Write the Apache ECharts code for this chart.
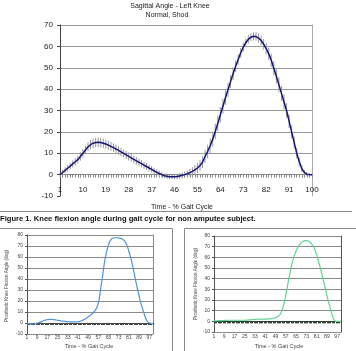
<!DOCTYPE html>
<html>
<head>
<meta charset="utf-8">
<script src="https://cdn.jsdelivr.net/npm/echarts@6/dist/echarts.min.js"></script>
<style>
  html, body { margin: 0; padding: 0; background: #fff; }
  #chart { width: 356px; height: 351px; }
</style>
</head>
<body>
<div id="chart"></div>
<script>
// gait cycle categories 1..100
const gaitCats = Array.from({ length: 100 }, (_, i) => String(i + 1));

// top chart: normal shod knee angle (mean) and its spread
const kneeMean = [
  0, 1, 2, 3, 4, 5, 6, 7, 8.5, 10,
  11.5, 13, 14, 14.7, 15, 15.1, 15, 14.7, 14.3, 13.8,
  13.2, 12.6, 12, 11.3, 10.6, 9.9, 9.2, 8.5, 7.8, 7.1,
  6.4, 5.8, 5.1, 4.4, 3.8, 3.1, 2.5, 1.8, 1.1, 0.5,
  0, -0.5, -0.8, -1, -1, -1, -0.9, -0.6, -0.3, 0,
  0.4, 0.9, 1.5, 2.2, 3.1, 4.3, 5.8, 8.5, 10.8, 13.5,
  16.6, 20.2, 24, 28, 32, 36, 39.7, 43.5, 47.2, 50.7,
  53.9, 57, 59.6, 61.7, 63.3, 64.3, 64.7, 64.6, 63.9, 62.8,
  61, 59, 56.5, 53.5, 49.8, 46, 42, 38, 34, 30,
  25, 20, 15, 10, 6, 2.8, 1, 0.2, 0, 0
];
const kneeSd = [
  1, 1.2, 1.4, 1.5, 1.6, 1.7, 1.8, 1.9, 2, 2,
  2, 2.1, 2.2, 2.2, 2.2, 2.2, 2.2, 2.2, 2.1, 2.1,
  2, 2, 2, 2, 2, 1.9, 1.9, 1.9, 1.8, 1.8,
  1.8, 1.7, 1.7, 1.6, 1.6, 1.5, 1.5, 1.4, 1.4, 1.3,
  1.3, 1.2, 1.2, 1.2, 1.2, 1.2, 1.2, 1.3, 1.4, 1.5,
  1.6, 1.8, 2, 2.2, 2.4, 2.6, 2.8, 3, 3.2, 3.4,
  3.5, 3.6, 3.6, 3.6, 3.5, 3.4, 3.3, 3.1, 2.9, 2.7,
  2.5, 2.3, 2.1, 2, 1.9, 1.9, 1.9, 2, 2.1, 2.3,
  2.5, 2.7, 2.9, 3.1, 3.3, 3.4, 3.5, 3.5, 3.5, 3.4,
  3.2, 3, 2.7, 2.4, 2, 1.6, 1.2, 0.9, 0.7, 0.5
];

// bottom left: prosthetic knee (blue)
const prosthBlue = [
  -0.5, -0.6, -0.7, -0.8, -0.8, -0.7, -0.6, -0.4, -0.2, 0.2,
  0.6, 1, 1.5, 2, 2.4, 2.8, 3, 3.2, 3.3, 3.3,
  3.2, 3.1, 2.9, 2.7, 2.5, 2.3, 2.1, 1.9, 1.7, 1.5,
  1.4, 1.3, 1.2, 1.1, 1, 1, 1, 1, 1, 1.1,
  1.2, 1.4, 1.7, 2.1, 2.6, 3.2, 3.9, 4.6, 5.4, 6.3,
  7.2, 8.2, 9.3, 10.6, 12.2, 14.5, 18, 24, 32, 40,
  48, 56, 62, 67, 71, 74, 75.8, 76.8, 77.3, 77.5,
  77.5, 77.5, 77.4, 77.1, 76.8, 76.2, 75.3, 74, 72, 69,
  65.5, 61.5, 57, 52, 46.5, 41, 35, 30, 25, 20,
  16, 12, 8.5, 5, 2.5, 1, 0, -0.3, -0.5, -0.5
];

// bottom right: prosthetic knee (green)
const prosthGreen = [
  0.5, 0.5, 0.5, 0.6, 0.6, 0.7, 0.7, 0.8, 0.8, 0.9,
  0.9, 1, 1, 1, 1, 1, 1, 1, 1, 1,
  1, 1, 1, 1, 1, 1.1, 1.2, 1.3, 1.4, 1.5,
  1.6, 1.7, 1.8, 1.9, 2, 2, 2, 2, 2, 2,
  2, 2.1, 2.2, 2.3, 2.4, 2.6, 2.8, 3.1, 3.5, 4,
  4.8, 5.8, 7.5, 10, 14, 19, 25, 31, 38, 44,
  50, 55, 59.5, 63, 66, 68.5, 70.5, 72.3, 73.5, 74.5,
  75.2, 75.6, 75.7, 75.5, 75, 74, 72.7, 71, 69, 66,
  62.5, 58.5, 54, 49.5, 44.5, 39.5, 34.5, 29.5, 24.5, 19.5,
  15, 10.5, 6.5, 3, 0.8, 0, 0, 0, 0, 0
];

const FONT = '"Liberation Sans", Arial, sans-serif';
const chart = echarts.init(document.getElementById('chart'), null, { renderer: 'canvas' });

function txt(text, x, y, size, opts) {
  opts = opts || {};
  return {
    type: 'text',
    x: x, y: y,
    rotation: opts.rotation || 0,
    silent: true,
    style: {
      text: text,
      fill: opts.color || '#222',
      font: (opts.bold ? 'bold ' : '') + size + 'px ' + FONT,
      align: opts.align || 'center',
      verticalAlign: 'middle',
      textAlign: opts.align || 'center',
      textVerticalAlign: 'middle'
    }
  };
}
function seg(x1, y1, x2, y2, color) {
  return {
    type: 'line', silent: true,
    shape: { x1: x1, y1: y1, x2: x2, y2: y2 },
    style: { stroke: color || '#888', lineWidth: 1 }
  };
}

// small multiples share axis styling
function smallX(gridIndex, lineColor, margin) {
  return {
    gridIndex: gridIndex,
    type: 'category',
    data: gaitCats,
    boundaryGap: false,
    axisLine: { onZero: true, lineStyle: { color: lineColor, width: 1 } },
    axisTick: { interval: 0, length: 2, lineStyle: { color: lineColor } },
    axisLabel: { interval: 7, margin: margin, fontSize: 5, color: '#444', fontFamily: FONT },
    splitLine: { show: false }
  };
}
function smallY(gridIndex) {
  return {
    gridIndex: gridIndex,
    type: 'value',
    min: -10, max: 80, interval: 10,
    axisLine: { show: true, lineStyle: { color: '#555' } },
    axisTick: { show: true, length: 2, lineStyle: { color: '#555' } },
    axisLabel: { fontSize: 5, margin: 4, color: '#444', fontFamily: FONT },
    splitLine: { show: true, lineStyle: { color: '#8a8a8a', width: 1 } }
  };
}
function borderY(gridIndex, min, max, color) {
  return {
    gridIndex: gridIndex, type: 'value', position: 'right',
    min: min, max: max,
    axisLine: { show: true, lineStyle: { color: color } },
    axisTick: { show: false }, axisLabel: { show: false }, splitLine: { show: false }
  };
}

const option = {
  animation: false,
  backgroundColor: '#fff',
  grid: [
    { left: 60, top: 25, width: 252, height: 171 },
    { left: 27, top: 235, width: 126, height: 99 },
    { left: 214, top: 236, width: 127, height: 96 }
  ],
  xAxis: [
    {
      gridIndex: 0,
      type: 'category',
      data: gaitCats,
      boundaryGap: false,
      axisLine: { onZero: true, lineStyle: { color: '#888' } },
      axisTick: { interval: 0, length: 3, lineStyle: { color: '#888' } },
      axisLabel: { interval: 8, margin: -10, fontSize: 8, color: '#222', fontFamily: FONT },
      splitLine: { show: false }
    },
    smallX(1, '#444', 1.5),
    smallX(2, '#2f3f33', 2)
  ],
  yAxis: [
    {
      gridIndex: 0,
      type: 'value',
      min: -10, max: 70, interval: 10,
      axisLine: { show: true, lineStyle: { color: '#444' } },
      axisTick: { show: true, length: 3, lineStyle: { color: '#444' } },
      axisLabel: { fontSize: 8, margin: 7, color: '#222', fontFamily: FONT },
      splitLine: { show: true, showMinLine: false, lineStyle: { color: '#999', width: 1 } }
    },
    borderY(0, -10, 70, '#aaa'),
    smallY(1),
    borderY(1, -10, 80, '#888'),
    smallY(2),
    borderY(2, -10, 80, '#2e6b3e')
  ],
  series: [
    {
      name: 'spread',
      type: 'custom',
      xAxisIndex: 0, yAxisIndex: 0,
      data: kneeMean.map((v, i) => [i, v, kneeSd[i]]),
      encode: { x: 0, y: 1 },
      z: 1,
      renderItem: function (params, api) {
        const i = api.value(0);
        const m = api.value(1);
        const s = api.value(2);
        const lo = api.coord([i, m - s]);
        const hi = api.coord([i, m + s]);
        return {
          type: 'line',
          shape: { x1: lo[0], y1: lo[1], x2: hi[0], y2: hi[1] },
          style: { stroke: '#9a9a9a', lineWidth: 1 }
        };
      }
    },
    {
      name: 'Sagittal Angle',
      type: 'line',
      xAxisIndex: 0, yAxisIndex: 0,
      data: kneeMean,
      symbol: 'none',
      z: 3,
      lineStyle: { color: '#16167a', width: 1.5 }
    },
    {
      name: 'Prosthetic A',
      type: 'line',
      xAxisIndex: 1, yAxisIndex: 2,
      data: prosthBlue,
      symbol: 'none',
      smooth: true,
      z: 3,
      lineStyle: { color: '#4f93d8', width: 1.2 }
    },
    {
      name: 'Prosthetic B',
      type: 'line',
      xAxisIndex: 2, yAxisIndex: 4,
      data: prosthGreen,
      symbol: 'none',
      smooth: true,
      z: 3,
      lineStyle: { color: '#5fd394', width: 1.2 }
    }
  ],
  graphic: [
    txt('Sagittal Angle - Left Knee', 170, 6, 7),
    txt('Normal, Shod', 167, 15, 7),
    txt('Time - % Gait Cycle', 182, 207, 7),
    seg(0, 211.5, 352, 211.5, '#888'),
    txt('Figure 1. Knee flexion angle during gait cycle for non amputee subject.', 0, 218.5, 7.6, { bold: true, align: 'left', color: '#111' }),
    // frames round the two small charts
    seg(0, 228.5, 172.5, 228.5, '#888'),
    seg(172.5, 228.5, 172.5, 351, '#888'),
    seg(184.5, 228.5, 356, 228.5, '#888'),
    seg(184.5, 228.5, 184.5, 351, '#888'),
    txt('Prosthetic Knee Flexion Angle (deg)', 7, 286, 4.5, { rotation: Math.PI / 2, color: '#444' }),
    txt('Prosthetic Knee Flexion Angle (deg)', 196, 284, 4.5, { rotation: Math.PI / 2, color: '#444' }),
    txt('Time - % Gait Cycle', 89, 346.5, 5.5, { color: '#444' }),
    txt('Time - % Gait Cycle', 279, 346.5, 5.5, { color: '#444' })
  ]
};

chart.setOption(option);
</script>
</body>
</html>
